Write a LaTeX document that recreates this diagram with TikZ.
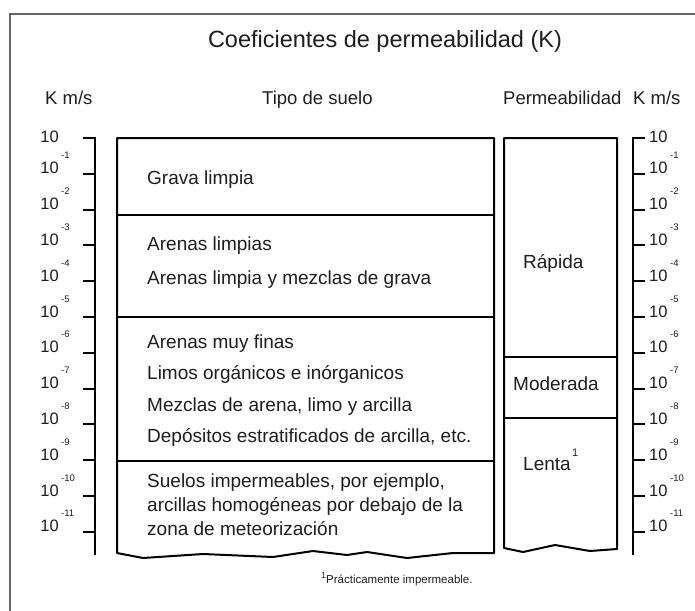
\documentclass[tikz,border=0pt]{standalone}
\usepackage{fontspec}
\setmainfont{Liberation Sans}
\definecolor{ink}{HTML}{1E1E1E}
\begin{document}
\begin{tikzpicture}[x=1pt,y=-1pt,
  line/.style={draw=black,line width=2pt},
  frameline/.style={draw=black!60,line width=1.3pt},
  title/.style={inner sep=0pt,text=ink,font=\fontsize{23.5}{26}\selectfont},
  head/.style={inner sep=0pt,text=ink,font=\fontsize{18.5}{21}\selectfont},
  boxtext/.style={inner sep=0pt,text=ink,font=\fontsize{19}{22}\selectfont,anchor=base west},
  ticklab/.style={inner sep=0pt,text=ink,font=\fontsize{16.5}{18}\selectfont},
  explab/.style={inner sep=0pt,text=ink,font=\fontsize{9.5}{10}\selectfont},
  foot/.style={inner sep=0pt,text=ink,font=\fontsize{11.5}{13}\selectfont}]
\useasboundingbox[fill=white] (0,0) rectangle (695,610);
% frame (extends beyond picture)
\draw[frameline] (10,615) -- (10,14) -- (700,14);
% title and headings
\node[title,anchor=base] (title) at (385,48) {Coeficientes de permeabilidad (K)};
\node[head,anchor=base west] (hk1) at (45,104) {K m/s};
\node[head,anchor=base west] (htipo) at (262,104) {Tipo de suelo};
\node[head,anchor=base west] (hperm) at (503,104) {Permeabilidad};
\node[head,anchor=base west] (hk2) at (633,104) {K m/s};
% axes
\draw[line] (83,138) -- (95,138) -- (95,555);
\draw[line] (645,138) -- (633,138) -- (633,555);
\node[ticklab,anchor=base east] (l0) at (59,142) {10};
\node[ticklab,anchor=base west] (r0) at (649,142) {10};
\foreach \k in {1,...,11} {
  \pgfmathsetmacro\yy{138+35.8*\k}
  \draw[line] (83,\yy) -- (95,\yy);
  \draw[line] (633,\yy) -- (645,\yy);
  \node[ticklab,anchor=base east] (l\k) at (59,\yy) {10};
  \node[explab,anchor=base west] (le\k) at (61,\yy-15) {-\k};
  \node[ticklab,anchor=base west] (r\k) at (649,\yy) {10};
  \node[explab,anchor=base west] (re\k) at (670,\yy-15) {-\k};
}
% soil type box
\draw[line,line join=round] (117,553) -- (117,138) -- (494,138) -- (494,553)
  -- (453,553) -- (407,558) -- (367,552) -- (347,555) -- (313,551) -- (273,557)
  -- (203,554) -- (143,558) -- cycle;
\draw[line] (117,215) -- (494,215);
\draw[line] (117,317) -- (494,317);
\draw[line] (117,461) -- (494,461);
% permeability box
\draw[line,line join=round] (504,548) -- (504,138) -- (617,138) -- (617,549)
  -- (590,551) -- (555,545) -- (523,552) -- cycle;
\draw[line] (504,357) -- (617,357);
\draw[line] (504,418) -- (617,418);
% soil texts
\node[boxtext] (t1) at (147,184) {Grava limpia};
\node[boxtext] (t2) at (147,250) {Arenas limpias};
\node[boxtext] (t3) at (147,284) {Arenas limpia y mezclas de grava};
\node[boxtext] (t4) at (147,348) {Arenas muy finas};
\node[boxtext] (t5) at (147,379) {Limos orgánicos e inórganicos};
\node[boxtext] (t6) at (147,411) {Mezclas de arena, limo y arcilla};
\node[boxtext] (t7) at (147,442) {Depósitos estratificados de arcilla, etc.};
\node[boxtext] (t8) at (147,487) {Suelos impermeables, por ejemplo,};
\node[boxtext] (t9) at (147,511) {arcillas homogéneas por debajo de la};
\node[boxtext] (t10) at (147,535) {zona de meteorización};
% permeability texts
\node[boxtext] (p1) at (523,268) {Rápida};
\node[boxtext] (p2) at (513,390) {Moderada};
\node[boxtext] (p3) at (523,470) {Lenta};
\node[explab,anchor=base west,font=\fontsize{11}{12}\selectfont] (p3s) at (572,456) {1};
% footnote
\node[foot,anchor=base west] (fn) at (321,583) {\raisebox{5pt}{\fontsize{9}{10}\selectfont 1}Prácticamente impermeable.};
\end{tikzpicture}
\end{document}
